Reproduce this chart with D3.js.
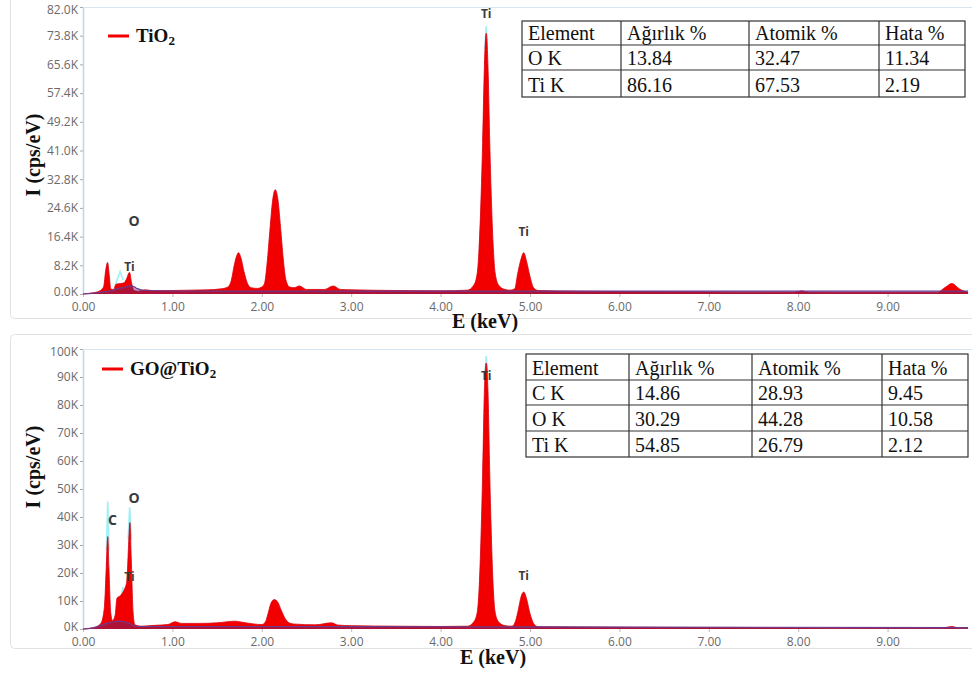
<!DOCTYPE html>
<html>
<head>
<meta charset="utf-8">
<script src="https://cdn.jsdelivr.net/npm/d3@7"></script>
<style>
  body { margin: 0; background: #fff; }
  svg { display: block; }
</style>
</head>
<body>
<svg id="chart" width="972" height="673"></svg>
<script>
// ---------------- DATA ----------------
const xTicks = [0, 1, 2, 3, 4, 5, 6, 7, 8, 9];

// TiO2 spectrum (energy keV, intensity K cps/eV)
const tio2E = [0.00,0.10,0.18,0.23,0.255,0.275,0.295,0.31,0.34,0.37,0.42,0.46,0.49,0.52,0.545,0.57,0.62,0.70,0.80,1.00,1.20,1.40,1.55,1.62,1.66,1.69,1.72,1.74,1.77,1.80,1.84,1.88,1.95,2.00,2.03,2.06,2.09,2.12,2.15,2.18,2.21,2.24,2.27,2.31,2.36,2.42,2.50,2.70,2.80,2.88,3.00,3.50,4.00,4.30,4.37,4.41,4.43,4.47,4.49,4.51,4.53,4.55,4.59,4.61,4.65,4.72,4.78,4.83,4.86,4.90,4.93,4.96,5.00,5.04,5.09,5.50,6.00,7.00,7.95,8.04,8.12,9.00,9.55,9.65,9.72,9.80,9.90];
const tio2I = [0.0,0.3,0.8,2.0,7.0,9.0,5.0,1.5,1.2,2.8,3.0,3.2,4.5,6.2,3.0,1.0,0.8,1.2,0.9,1.0,1.1,1.2,1.5,2.0,4.0,8.0,11.0,11.8,10.0,6.5,3.0,1.8,1.6,2.0,3.0,9.0,18.0,26.5,29.8,27.0,19.0,10.0,4.0,2.0,1.8,2.3,1.3,1.3,2.3,1.3,1.2,1.0,0.9,1.1,2.5,6.0,13.0,43.0,65.0,74.5,65.0,43.0,13.0,6.0,2.5,1.3,1.1,1.5,5.5,10.0,11.8,9.5,5.0,1.8,1.0,0.8,0.7,0.6,0.5,0.9,0.5,0.4,0.4,2.0,3.0,1.5,0.4];
const tio2BgE = [0.00,0.10,0.20,0.28,0.32,0.36,0.40,0.44,0.48,0.50,0.52,0.54,0.56,0.58,0.60,0.70,1.50,4.00,9.90];
const tio2Bg = [0.0,0.2,0.5,0.8,1.0,1.3,1.6,1.8,2.0,2.2,2.3,2.3,2.2,2.0,1.6,1.0,0.8,0.8,0.8];

// GO@TiO2 spectrum
const goE = [0.00,0.12,0.20,0.24,0.26,0.277,0.29,0.31,0.33,0.36,0.38,0.42,0.46,0.49,0.51,0.525,0.54,0.56,0.58,0.65,0.80,0.95,1.03,1.10,1.30,1.50,1.70,1.80,2.00,2.04,2.07,2.10,2.14,2.18,2.22,2.26,2.30,2.35,2.60,2.78,2.85,3.00,3.50,4.00,4.30,4.37,4.41,4.43,4.47,4.49,4.51,4.53,4.55,4.59,4.61,4.65,4.72,4.80,4.84,4.87,4.90,4.93,4.96,5.00,5.04,5.09,5.50,6.00,7.00,8.00,9.00,9.60,9.72,9.80,9.90];
const goI = [0.0,0.5,2.0,8.0,22.0,33.0,22.0,6.0,3.0,5.0,11.0,12.0,14.0,17.0,30.0,38.0,25.0,6.0,1.5,1.0,1.3,1.6,2.6,2.0,2.0,2.2,2.8,2.3,1.6,2.5,5.5,9.0,10.5,9.5,6.5,3.8,2.3,1.8,1.5,2.2,1.4,1.2,1.0,0.9,1.0,2.5,6.0,14.0,55.0,85.0,95.0,85.0,55.0,14.0,6.0,2.5,1.2,1.0,3.0,7.0,11.5,13.2,11.0,5.5,2.0,0.8,0.7,0.6,0.5,0.4,0.3,0.3,0.9,0.3,0.3];
const goBgE = [0.00,0.10,0.20,0.28,0.34,0.40,0.46,0.52,0.56,0.60,0.70,1.50,4.00,9.90];
const goBg = [0.0,0.3,1.2,2.2,2.6,2.8,2.6,2.0,1.3,0.9,0.9,0.9,0.8,0.5];

// cyan peak-marker outlines [energy, K]
const tio2Cyan = [[[0.36,2.5],[0.415,6.4],[0.45,4.0]],[[4.495,70],[4.51,76.5],[4.525,70]]];
const goCyan = [[[0.262,28],[0.277,45.5],[0.292,28]],[[0.505,32],[0.522,43.5],[0.54,32]],[[0.43,12],[0.45,15]],[[4.498,92],[4.51,97.5],[4.522,92]]];

// peak labels
const tio2Labels = [["Ti",4.51,79],["Ti",4.93,16.5],["O",0.57,19.5],["Ti",0.52,6.5]];
const goLabels = [["C",0.33,37],["O",0.57,45],["Ti",0.52,17],["Ti",4.51,89],["Ti",4.93,17.5]];

// tables
const tableHeader = ["Element","Ağırlık %","Atomik %","Hata %"];
const tio2Table = [["O K","13.84","32.47","11.34"],["Ti K","86.16","67.53","2.19"]];
const goTable = [["C K","14.86","28.93","9.45"],["O K","30.29","44.28","10.58"],["Ti K","54.85","26.79","2.12"]];

const tio2YTicks = [0,8.2,16.4,24.6,32.8,41.0,49.2,57.4,65.6,73.8,82.0];
const goYTicks = [0,10,20,30,40,50,60,70,80,90,100];

// ---------------- DRAW ----------------
const svg = d3.select("#chart");
const RED = "#f20000";

function panel(cfg) {
  const g = svg.append("g");
  // frame
  g.append("rect").attr("x", 10.5).attr("y", cfg.frameTop + 0.5)
    .attr("width", 990).attr("height", cfg.frameH).attr("rx", 4)
    .attr("fill", "#fff").attr("stroke", "#e2e2e2");

  const x = d3.scaleLinear().domain([0, 10]).range([83, 977]);
  const y = d3.scaleLinear().domain([0, cfg.yMax]).range([cfg.y0, cfg.yTop]);

  const clipId = "clip" + cfg.id;
  svg.append("clipPath").attr("id", clipId).append("rect")
    .attr("x", 83).attr("y", cfg.yTop - 8).attr("width", 889).attr("height", cfg.y0 - cfg.yTop + 9);

  // plot borders (light blue)
  g.append("line").attr("x1", 83.5).attr("x2", 83.5).attr("y1", cfg.yTop).attr("y2", cfg.y0)
    .attr("stroke", "#bcd6ec").attr("stroke-width", 1.5);
  g.append("line").attr("x1", 83).attr("x2", 972).attr("y1", cfg.yTop + 0.5).attr("y2", cfg.yTop + 0.5)
    .attr("stroke", "#d6e6f3").attr("stroke-width", 1);

  // y axis
  const yAxis = d3.axisLeft(y).tickValues(cfg.yTicks).tickSize(3).tickPadding(2)
    .tickFormat(cfg.yFmt);
  const ya = g.append("g").attr("transform", "translate(83,0)").call(yAxis);
  ya.select(".domain").remove();
  ya.selectAll("line").attr("stroke", "#aaa");
  ya.selectAll("text").attr("fill", "#6a6a6a").attr("font-family", "Open Sans, sans-serif").attr("font-size", 12)
    .attr("dy", (d, i, n) => i === 0 ? "0.1em" : (i === n.length - 1 ? "0.5em" : "0.32em"));

  // x axis
  const xAxis = d3.axisBottom(x).tickValues(xTicks).tickSize(3).tickPadding(5).tickFormat(d3.format(".2f"));
  const xa = g.append("g").attr("transform", `translate(0,${cfg.y0})`).call(xAxis);
  xa.select(".domain").remove();
  xa.selectAll("line").attr("stroke", "#bbb");
  xa.selectAll("text").attr("fill", "#6a6a6a").attr("font-family", "Open Sans, sans-serif").attr("font-size", 12);

  const plot = g.append("g").attr("clip-path", `url(#${clipId})`);

  const pts = cfg.E.map((e, i) => [e, cfg.I[i]]);
  const area = d3.area().x(d => x(d[0])).y0(y(0)).y1(d => y(d[1])).curve(d3.curveMonotoneX);
  const line = d3.line().x(d => x(d[0])).y(d => y(d[1])).curve(d3.curveMonotoneX);

  // cyan marker outlines
  cfg.cyan.forEach(c => {
    plot.append("path").datum(c).attr("d", d3.line().x(d => x(d[0])).y(d => y(d[1])))
      .attr("fill", "none").attr("stroke", "#9ff0f6").attr("stroke-width", 1.6);
  });

  plot.append("path").datum(pts).attr("d", area).attr("fill", RED);
  plot.append("path").datum(pts).attr("d", line).attr("fill", "none").attr("stroke", "#d80010").attr("stroke-width", 0.8);

  // background fit
  const bg = cfg.bgE.map((e, i) => [e, cfg.bg[i]]);
  plot.append("path").datum(bg).attr("d", area).attr("fill", "#5a2a7a").attr("opacity", 0.45);
  plot.append("path").datum(bg).attr("d", line).attr("fill", "none").attr("stroke", "#6b3a8e").attr("stroke-width", 1.2);

  // peak labels
  cfg.labels.forEach(l => {
    g.append("text").attr("x", x(l[1])).attr("y", y(l[2])).attr("text-anchor", "middle")
      .attr("font-family", "Open Sans, sans-serif").attr("font-weight", 700)
      .attr("font-size", l[0] === "Ti" ? 12 : 14).attr("fill", "#3a3a3a").text(l[0]);
  });

  // legend
  g.append("line").attr("x1", cfg.legX).attr("x2", cfg.legX + 21).attr("y1", cfg.legY).attr("y2", cfg.legY)
    .attr("stroke", RED).attr("stroke-width", 3);
  const lt = g.append("text").attr("x", cfg.legX + 28).attr("y", cfg.legY + 6)
    .attr("font-family", "Liberation Serif, Times New Roman, serif").attr("font-weight", 700)
    .attr("font-size", 19).attr("fill", "#111");
  lt.append("tspan").text(cfg.legText);
  lt.append("tspan").attr("font-size", 13).attr("dy", 3).text("2");

  // axis titles
  g.append("text").attr("transform", `translate(40,${cfg.yTitleY}) rotate(-90)`).attr("text-anchor", "middle")
    .attr("font-family", "Liberation Serif, Times New Roman, serif").attr("font-weight", 700)
    .attr("font-size", 20).attr("fill", "#111").text("I (cps/eV)");
  g.append("text").attr("x", cfg.xTitleX).attr("y", cfg.xTitleY).attr("text-anchor", "middle")
    .attr("font-family", "Liberation Serif, Times New Roman, serif").attr("font-weight", 700)
    .attr("font-size", 20).attr("fill", "#111").text("E (keV)");

  // table
  const rows = [tableHeader].concat(cfg.table);
  const tg = g.append("g");
  tg.append("rect").attr("x", cfg.tx[0]).attr("y", cfg.ty[0])
    .attr("width", cfg.tx[cfg.tx.length - 1] - cfg.tx[0]).attr("height", cfg.ty[cfg.ty.length - 1] - cfg.ty[0])
    .attr("fill", "#fff").attr("stroke", "#333").attr("stroke-width", 1.2);
  cfg.tx.slice(1, -1).forEach(xx => tg.append("line").attr("x1", xx).attr("x2", xx)
    .attr("y1", cfg.ty[0]).attr("y2", cfg.ty[cfg.ty.length - 1]).attr("stroke", "#333").attr("stroke-width", 1.2));
  cfg.ty.slice(1, -1).forEach(yy => tg.append("line").attr("x1", cfg.tx[0]).attr("x2", cfg.tx[cfg.tx.length - 1])
    .attr("y1", yy).attr("y2", yy).attr("stroke", "#333").attr("stroke-width", 1.2));
  rows.forEach((r, ri) => r.forEach((c, ci) => {
    tg.append("text").attr("x", cfg.tx[ci] + 6).attr("y", cfg.ty[ri + 1] - 5)
      .attr("font-family", "Liberation Serif, Times New Roman, serif").attr("font-size", 20)
      .attr("fill", "#111").text(c);
  }));
}

panel({
  id: 1, frameTop: -10, frameH: 328, yMax: 82, y0: 294, yTop: 7,
  yTicks: tio2YTicks, yFmt: d => d3.format(".1f")(d) + "K",
  E: tio2E, I: tio2I, bgE: tio2BgE, bg: tio2Bg, cyan: tio2Cyan, labels: tio2Labels,
  legX: 108, legY: 36, legText: "TiO",
  yTitleY: 155, xTitleX: 485, xTitleY: 328,
  table: tio2Table, tx: [522, 621, 749, 879, 965], ty: [21, 45, 70, 97]
});

panel({
  id: 2, frameTop: 334, frameH: 314, yMax: 100, y0: 629, yTop: 349,
  yTicks: goYTicks, yFmt: d => d + "K",
  E: goE, I: goI, bgE: goBgE, bg: goBg, cyan: goCyan, labels: goLabels,
  legX: 102, legY: 369, legText: "GO@TiO",
  yTitleY: 467, xTitleX: 493, xTitleY: 664,
  table: goTable, tx: [526, 629, 752, 882, 968], ty: [354, 380, 405, 431, 457]
});
</script>
</body>
</html>
